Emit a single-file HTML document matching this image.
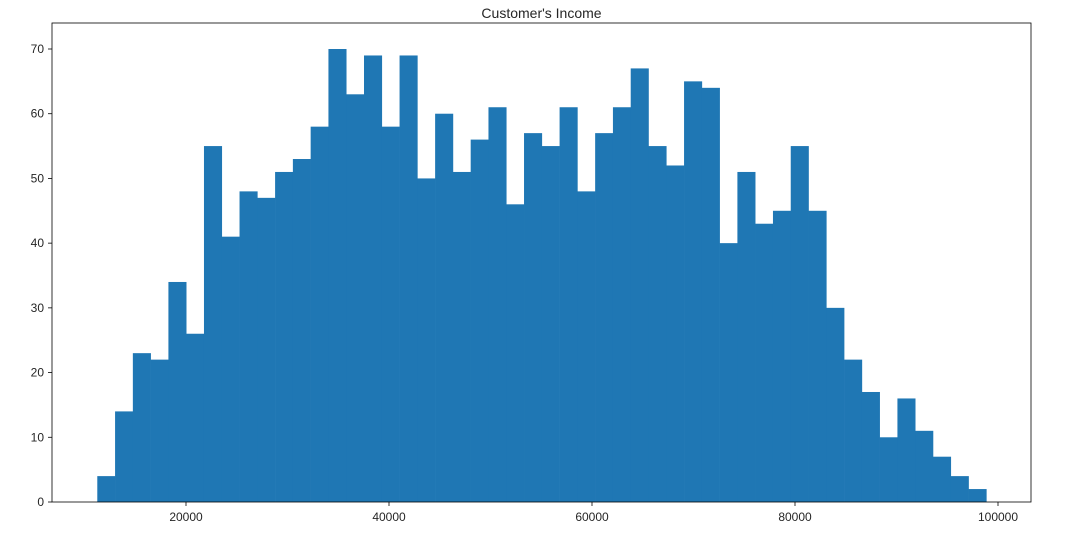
<!DOCTYPE html>
<html><head><meta charset="utf-8"><style>
body{margin:0;background:#fff;width:1082px;height:542px;overflow:hidden}
text{font-family:"Liberation Sans","DejaVu Sans",sans-serif;fill:#262626}
</style></head><body>
<svg id="chart" width="1082" height="542" xmlns="http://www.w3.org/2000/svg"></svg>
<script>
const counts=[4,14,23,22,34,26,55,41,48,47,51,53,58,70,63,69,58,69,50,60,51,56,61,46,57,55,61,48,57,61,67,55,52,65,64,40,51,43,45,55,45,30,22,17,10,16,11,7,4,2];
const binStart=11260;
const binEnd=98850;
const xTicks=[20000,40000,60000,80000,100000];
const yTicks=[0,10,20,30,40,50,60,70];
const title="Customer's Income";

const NS="http://www.w3.org/2000/svg";
const svg=document.getElementById('chart');
const L=52,R=1031,T=23,B=502;
const xs=v=>186+(v-20000)*0.01015;
const ys=v=>B-v*(453/70);
function mk(tag,attrs){const e=document.createElementNS(NS,tag);for(const k in attrs)e.setAttribute(k,attrs[k]);svg.appendChild(e);return e;}
const bw=(binEnd-binStart)/counts.length;
counts.forEach((c,i)=>{
  const x0=xs(binStart+i*bw),x1=xs(binStart+(i+1)*bw);
  const r=mk('rect',{x:x0,y:ys(c),width:x1-x0+0.3,height:B-ys(c),fill:'#1f77b4'});
  
  
});
const frame=mk('rect',{x:L,y:T,width:R-L,height:B-T,fill:'none',stroke:'#000','stroke-width':0.8});


xTicks.forEach(v=>{
  const x=xs(v);
  const t=mk('line',{x1:x,x2:x,y1:B,y2:B+4,stroke:'#000','stroke-width':0.8});
  
  
  const l=mk('text',{x:x,y:B+19,'text-anchor':'middle','font-size':12});
  l.textContent=v;
  
  
});
yTicks.forEach(v=>{
  const y=ys(v);
  const t=mk('line',{x1:L-4,x2:L,y1:y,y2:y,stroke:'#000','stroke-width':0.8});
  
  
  const l=mk('text',{x:L-8,y:y+4,'text-anchor':'end','font-size':12});
  l.textContent=v;
  
  
});
const tt=mk('text',{x:(L+R)/2,y:T-5,'text-anchor':'middle','font-size':14});
tt.textContent=title;


</script>
</body></html>
